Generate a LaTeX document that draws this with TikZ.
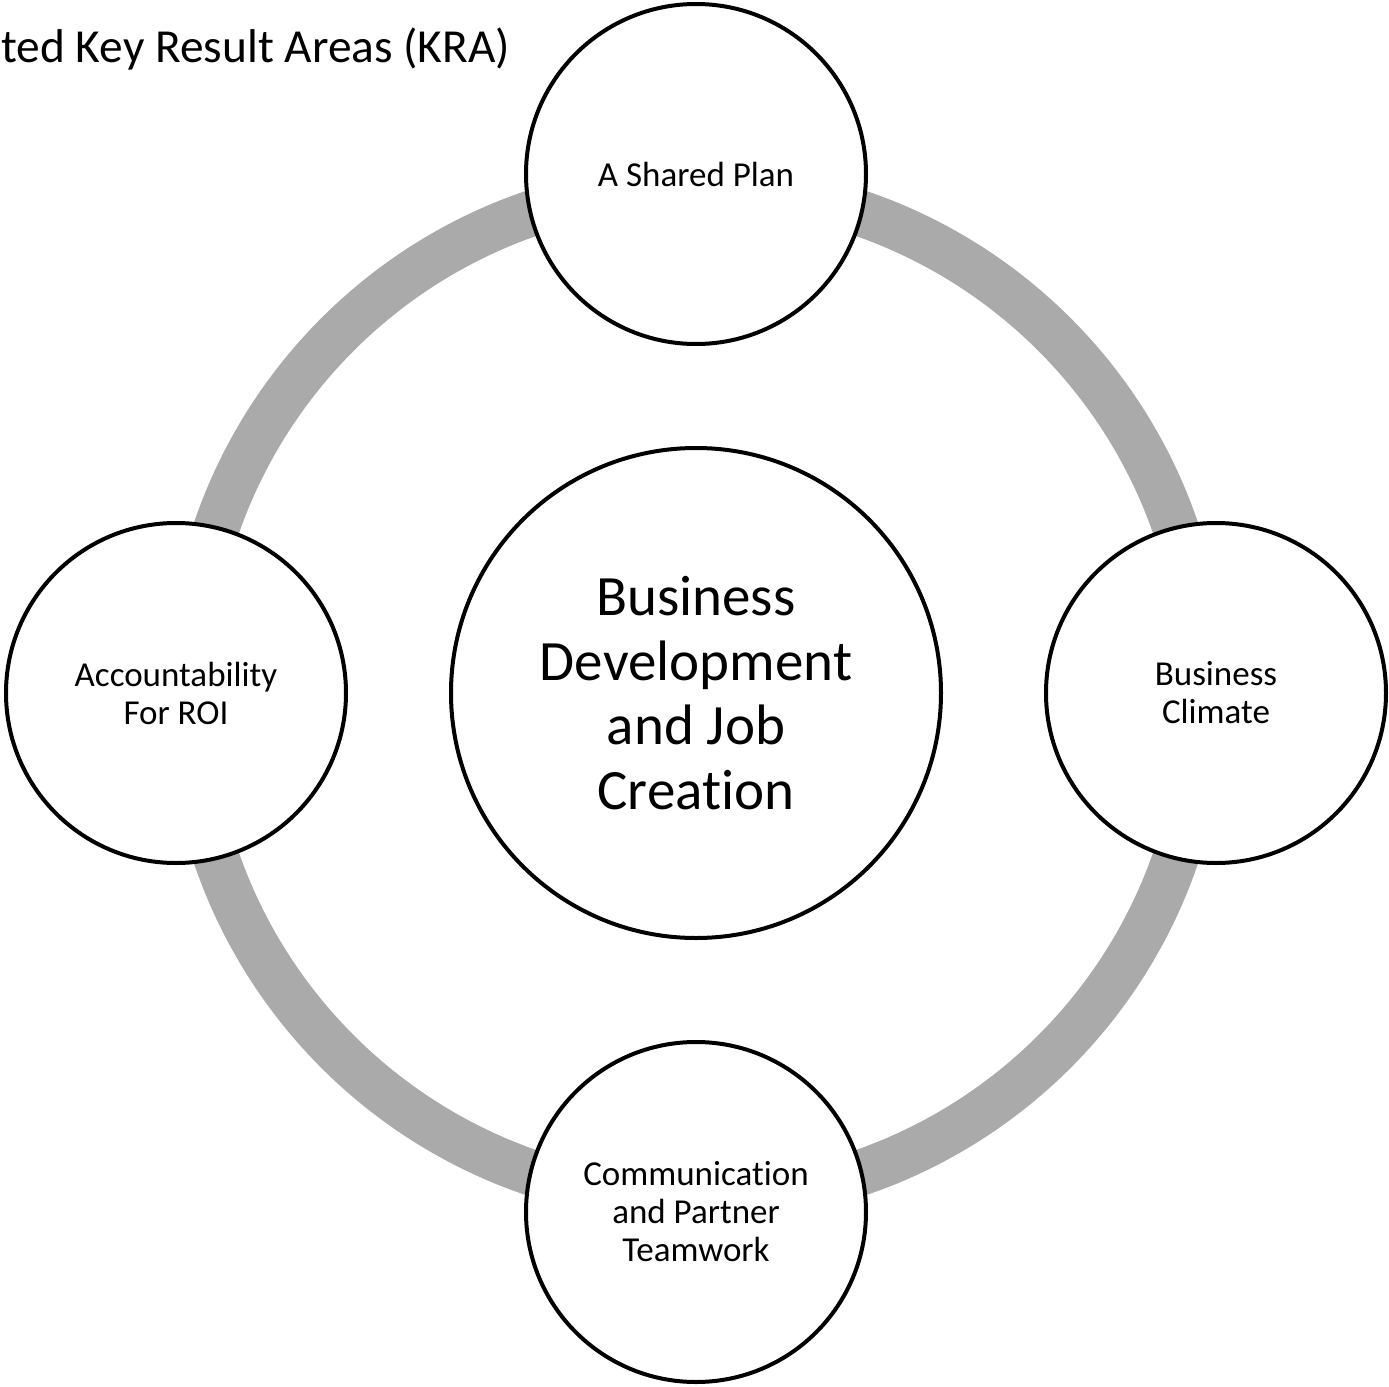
\documentclass[tikz,border=0pt]{standalone}
\usepackage{fontspec}
\setmainfont{Carlito}[Ligatures=NoCommon]
\definecolor{ringgray}{RGB}{170,170,170}
\tikzset{
  kra/.style={circle,draw=black,line width=2pt,fill=white,minimum size=170pt,
    inner sep=0pt,align=center,font=\fontsize{17.5pt}{19pt}\selectfont},
  core/.style={circle,draw=black,line width=2pt,fill=white,minimum size=245pt,
    inner sep=0pt,align=center,font=\fontsize{28.5pt}{32.25pt}\selectfont}
}

\begin{document}
\begin{tikzpicture}[x=0.5pt,y=-0.5pt]
  \useasboundingbox (0,0) rectangle (1389,1387);
  % grey ring behind the circles
  \draw[ringgray,line width=23pt] (696,693) circle[radius=253.5pt];
  \node[core] (core) at (696,693) {Business\\Development\\and Job\\Creation};
  \node[kra] (plan) at (696,174) {A Shared Plan};
  \node[kra] (climate) at (1216,693) {Business\\Climate};
  \node[kra] (team) at (696,1212) {Communication\\and Partner\\Teamwork};
  \node[kra] (roi) at (176,693) {Accountability\\For ROI};
  % title at the top left
  \node[anchor=base west,inner sep=0pt,font=\fontsize{23.7pt}{28pt}\selectfont] (title) at (1,62) {ted Key Result Areas (KRA)};
\end{tikzpicture}
\end{document}
